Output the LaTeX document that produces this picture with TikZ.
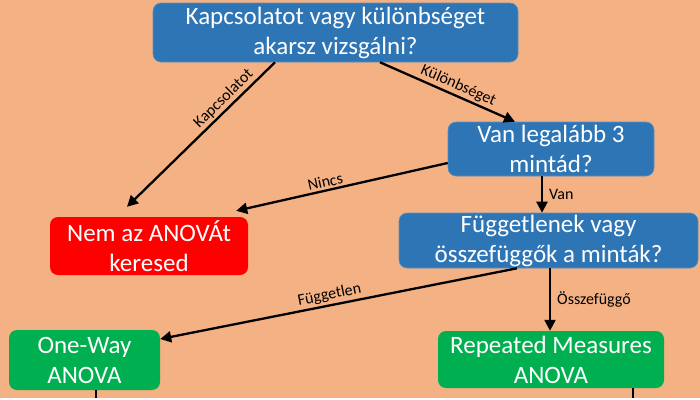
\documentclass[tikz,border=0pt]{standalone}
\usepackage{fontspec}
\setmainfont{Carlito}
\usetikzlibrary{arrows.meta}
\definecolor{bgpeach}{RGB}{244,177,131}
\definecolor{qblue}{RGB}{46,117,182}
\definecolor{nored}{RGB}{255,0,0}
\definecolor{okgreen}{RGB}{0,176,80}

\begin{document}
\begin{tikzpicture}[x=1pt,y=-1pt,
            box/.style={rounded corners=8pt,text=white,align=center,inner sep=0pt,
              font=\fontsize{25}{30}\selectfont},
            qbox/.style={box,fill=qblue,draw=qblue!80!white,line width=0.6pt},
            nobox/.style={box,fill=nored},
            anovabox/.style={box,fill=okgreen},
            arrow/.style={line width=2.3pt,-{Triangle[length=11pt,width=11pt]}},
            lbl/.style={font=\fontsize{16}{18}\selectfont,text=black,inner sep=2pt}]
 \fill[bgpeach] (0,0) rectangle (700,398);

 \node[qbox,minimum width=365pt,minimum height=59pt] (kerdes) at (335.5,32.5)
   {Kapcsolatot vagy különbséget\\akarsz vizsgálni?};
 \node[qbox,minimum width=206pt,minimum height=54pt] (harom) at (551,149)
   {Van legalább 3\\mintád?};
 \node[nobox,minimum width=198pt,minimum height=58pt] (nem) at (149,246)
   {Nem az ANOVÁt\\keresed};
 \node[qbox,minimum width=299pt,minimum height=55pt] (fugg) at (548.5,240.5)
   {Függetlenek vagy\\összefüggők a minták?};
 \node[anovabox,minimum width=151pt,minimum height=60pt] (oneway) at (84.5,360)
   {One-Way\\ANOVA};
 \node[anovabox,minimum width=226pt,minimum height=57pt] (repeated) at (551,359.5)
   {Repeated Measures\\ANOVA};
 \coordinate (kiA) at (96,398);
 \coordinate (kiB) at (633,398);

 \draw[arrow] ([xshift=-60.5pt]kerdes.south) -- ([xshift=-22pt,yshift=10pt]nem.north)
   node[lbl,pos=0.3,above,sloped] {Kapcsolatot};
 \draw[arrow] ([xshift=44.5pt]kerdes.south) -- ([xshift=-36pt]harom.north)
   node[lbl,pos=0.55,above,sloped] {Különbséget};
 \draw[arrow] ([yshift=-14pt]harom.west) -- ([xshift=-12pt,yshift=6pt]nem.north east)
   node[lbl,pos=0.57,above,sloped] {Nincs};
 \draw[arrow] ([xshift=-9pt]harom.south) -- ([xshift=-9pt]harom.south |- fugg.north)
   node[lbl,midway,right,xshift=4pt] {Van};
 \draw[arrow] ([xshift=-31.5pt]fugg.south) -- ([yshift=21pt]oneway.east)
   node[lbl,pos=0.52,above,sloped] {Független};
 \draw[arrow] ([xshift=1.5pt]fugg.south) -- ([xshift=1.5pt]fugg.south |- repeated.north)
   node[lbl,midway,right,xshift=4pt] {Összefüggő};
 \draw[line width=2.3pt] (oneway.south -| kiA) -- (kiA);
 \draw[line width=2.3pt] (repeated.south -| kiB) -- (kiB);
\end{tikzpicture}
\end{document}
